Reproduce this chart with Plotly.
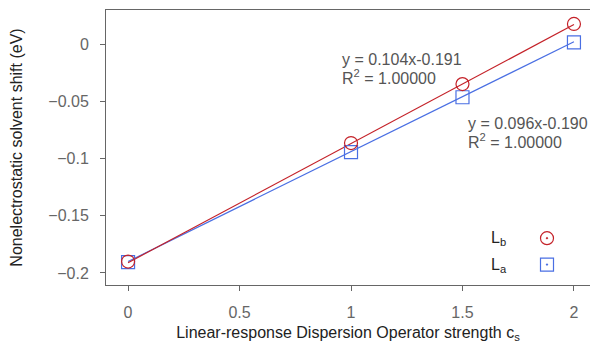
import plotly.graph_objects as go

# data
cs = [0, 1, 1.5, 2]
shift_lb = [-0.190, -0.0865, -0.035, 0.0175]
shift_la = [-0.1905, -0.0945, -0.0465, 0.0015]
fit_lb = (0.104, -0.191)
fit_la = (0.096, -0.190)
fit_x = [0, 2]
xticks = [0, 0.5, 1, 1.5, 2]
yticks = [0, -0.05, -0.1, -0.15, -0.2]
eq_lb = ["y = 0.104x-0.191", "R<sup>2</sup> = 1.00000"]
eq_la = ["y = 0.096x-0.190", "R<sup>2</sup> = 1.00000"]
legend_labels = ["L<sub>b</sub>", "L<sub>a</sub>"]

RED = "#c42128"
BLUE = "#4a6fe3"
FONT = "Liberation Sans"
L, R, T, B = 106, 0, 10, 59
W, H = 590, 344
pw, ph = W - L - R, H - T - B


def px(x, y):
    return (x - L) / pw, 1 - (y - T) / ph


def tick_fmt(v):
    s = "0" if v == 0 else ("%g" % v)
    return s.replace("-", "\u2212")


fig = go.Figure()
fig.add_trace(go.Scatter(x=fit_x, y=[fit_la[0] * v + fit_la[1] for v in fit_x],
                         mode="lines", line=dict(color=BLUE, width=1.2), showlegend=False))
fig.add_trace(go.Scatter(x=fit_x, y=[fit_lb[0] * v + fit_lb[1] for v in fit_x],
                         mode="lines", line=dict(color=RED, width=1.2), showlegend=False))
fig.add_trace(go.Scatter(x=cs, y=shift_la, mode="markers", showlegend=False,
                         marker=dict(symbol="square-open", size=13, color=BLUE,
                                     line=dict(width=1.2, color=BLUE))))
fig.add_trace(go.Scatter(x=cs, y=shift_lb, mode="markers", showlegend=False,
                         marker=dict(symbol="circle-open", size=13, color=RED,
                                     line=dict(width=1.2, color=RED))))
# legend keys (no data of their own)
fig.add_trace(go.Scatter(x=[None], y=[None], mode="markers", name="",
                         marker=dict(symbol="circle-open-dot", size=13, color=RED,
                                     line=dict(width=1.2, color=RED))))
fig.add_trace(go.Scatter(x=[None], y=[None], mode="markers", name="",
                         marker=dict(symbol="square-open-dot", size=13, color=BLUE,
                                     line=dict(width=1.2, color=BLUE))))

EQ_FONT = dict(family=FONT, size=16, color="#555")
for text, (x, y) in zip(eq_lb, [(340, 59), (340, 77)]):
    ax, ay = px(x, y)
    fig.add_annotation(x=ax, y=ay, xref="paper", yref="paper", text=text, showarrow=False,
                       xanchor="left", yanchor="middle", font=EQ_FONT)
for text, (x, y) in zip(eq_la, [(466, 123), (466, 141)]):
    ax, ay = px(x, y)
    fig.add_annotation(x=ax, y=ay, xref="paper", yref="paper", text=text, showarrow=False,
                       xanchor="left", yanchor="middle", font=EQ_FONT)

for text, (x, y) in zip(legend_labels, [(489, 238), (489, 265)]):
    ax, ay = px(x, y)
    fig.add_annotation(x=ax, y=ay, xref="paper", yref="paper", text=text, showarrow=False,
                       xanchor="left", yanchor="middle",
                       font=dict(family=FONT, size=16, color="#222"))

axis_common = dict(showgrid=False, zeroline=False, showline=True, linecolor="#666", linewidth=1,
                   ticks="outside", ticklen=5, tickcolor="#666", ticklabelstandoff=8,
                   tickfont=dict(family=FONT, size=16, color="#666"))

lx, ly = px(527, 220)
fig.update_layout(
    width=W, height=H,
    margin=dict(l=L, r=R, t=T, b=B),
    paper_bgcolor="white", plot_bgcolor="white",
    font=dict(family=FONT, color="#222"),
    xaxis=dict(range=[-0.099, 2.072], tickvals=xticks, ticktext=[tick_fmt(v) for v in xticks],
               mirror=True,
               title=dict(text="Linear-response Dispersion Operator strength c<sub>s</sub>",
                          font=dict(family=FONT, size=16, color="#222"), standoff=6),
               **axis_common),
    yaxis=dict(range=[-0.2105, 0.0297], tickvals=yticks, ticktext=[tick_fmt(v) for v in yticks],
               title=dict(text="Nonelectrostatic solvent shift (eV)",
                          font=dict(family=FONT, size=16, color="#222"), standoff=21),
               **axis_common),
    legend=dict(x=lx, y=ly, xanchor="left", yanchor="top", bgcolor="rgba(0,0,0,0)",
                font=dict(size=18), traceorder="normal"),
)

fig.write_html("out.html")
